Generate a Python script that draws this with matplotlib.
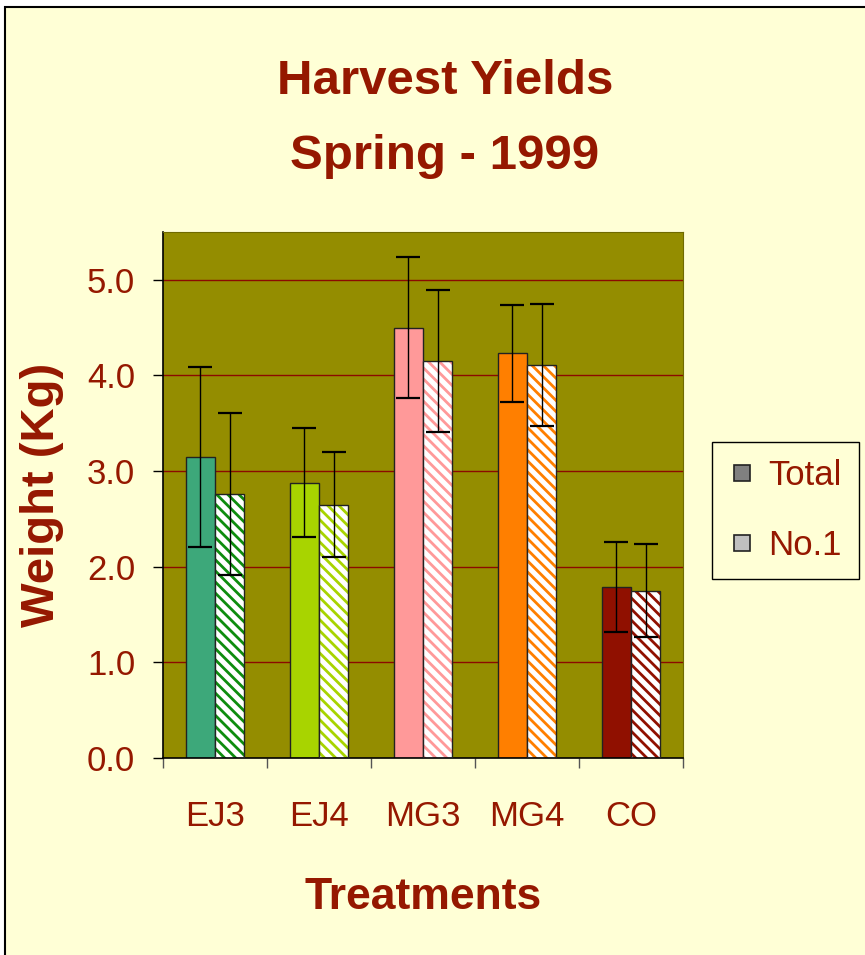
import matplotlib
matplotlib.use("Agg")
import matplotlib.pyplot as plt
import numpy as np
from matplotlib.patches import Rectangle
from matplotlib.lines import Line2D

# ---- data ----
categories = ["EJ3", "EJ4", "MG3", "MG4", "CO"]
total = [3.15, 2.88, 4.50, 4.23, 1.79]
total_err = [0.94, 0.57, 0.74, 0.51, 0.47]
no1 = [2.76, 2.65, 4.15, 4.11, 1.75]
no1_err = [0.85, 0.55, 0.74, 0.64, 0.49]
yticks = [0.0, 1.0, 2.0, 3.0, 4.0, 5.0]

total_colors = ["#3DA87A", "#A8D400", "#FF9999", "#FF7F00", "#901000"]
hatch_colors = ["#0E8C0E", "#A8D400", "#FF9999", "#FF7F00", "#901000"]

TXT = "#951800"
BG = "#FFFFD6"
PLOT_BG = "#948D00"
FONT = ["Liberation Sans", "DejaVu Sans"]

plt.rcParams["hatch.linewidth"] = 2.0

W, H = 865, 955
fig = plt.figure(figsize=(W / 100, H / 100), dpi=100, facecolor="white")
# yellow framed background
fig.add_artist(Rectangle((5 / W, -0.02), 1.1, 1 - 7 / H + 0.02, transform=fig.transFigure,
                         facecolor=BG, edgecolor="black", lw=1.5, zorder=-5))

ax = fig.add_axes([163 / W, 1 - 758 / H, (683 - 163) / W, (758 - 232) / H])
ax.set_facecolor(PLOT_BG)

x = np.arange(len(categories))
bw = 0.28
for yv in yticks[1:]:
    ax.axhline(yv, color="#8B0A00", lw=1.0, zorder=1)

ax.bar(x - bw / 2, total, bw, color=total_colors, edgecolor="#222222", lw=1.0, zorder=2)
ax.bar(x + bw / 2, no1, bw, color="white", edgecolor=hatch_colors, hatch="\\\\\\", lw=0, zorder=2)
ax.bar(x + bw / 2, no1, bw, fill=False, edgecolor="#222222", lw=1.0, zorder=3)

ax.errorbar(x - bw / 2, total, yerr=total_err, fmt="none", ecolor="black", elinewidth=1.0,
            capsize=8.3, capthick=1.6, zorder=4)
ax.errorbar(x + bw / 2, no1, yerr=no1_err, fmt="none", ecolor="black", elinewidth=1.0,
            capsize=8.3, capthick=1.6, zorder=4)

ax.set_xlim(-0.5, len(categories) - 0.5)
ax.set_ylim(0, 5.5)

ax.set_yticks(yticks)
ax.set_yticklabels([f"{v:.1f}" for v in yticks], family=FONT, fontsize=25, color=TXT)
ax.tick_params(axis="y", length=7, width=1, color="black", pad=13)

ax.set_xticks(np.arange(len(categories) + 1) - 0.5)
ax.set_xticklabels([])
ax.tick_params(axis="x", which="major", length=7, width=1, color="#555555")
ax.set_xticks(x, minor=True)
ax.set_xticklabels(categories, minor=True, family=FONT, fontsize=25, color=TXT)
ax.tick_params(axis="x", which="minor", length=0, pad=30)

for s in ["left", "bottom"]:
    ax.spines[s].set_color("black")
    ax.spines[s].set_linewidth(1.2)
for s in ["top", "right"]:
    ax.spines[s].set_color("#6f6a00")
    ax.spines[s].set_linewidth(0.8)

# axis labels
fig.text(42 / W, 1 - 495 / H, "Weight (Kg)", rotation=90, ha="center", va="center",
         family=FONT, fontweight="bold", fontsize=34, color=TXT)
fig.text(423 / W, 1 - 897 / H, "Treatments", ha="center", va="center",
         family=FONT, fontweight="bold", fontsize=32, color=TXT)

# title
fig.text(445 / W, 1 - 94 / H, "Harvest Yields", ha="center", va="baseline",
         family=FONT, fontweight="bold", fontsize=35.5, color=TXT)
fig.text(445 / W, 1 - 169 / H, "Spring - 1999", ha="center", va="baseline",
         family=FONT, fontweight="bold", fontsize=35.5, color=TXT)

# legend
handles = [Line2D([], [], ls="none", marker="s", markersize=12, markerfacecolor="#808080",
                  markeredgecolor="#222222", markeredgewidth=1.2),
           Line2D([], [], ls="none", marker="s", markersize=12, markerfacecolor="#C0C0C0",
                  markeredgecolor="#222222", markeredgewidth=1.2)]
leg = fig.legend(handles, ["Total", "No.1"], loc="center",
                 bbox_to_anchor=(785.5 / W, 1 - 510.5 / H),
                 prop={"family": FONT, "size": 25}, frameon=True, fancybox=False,
                 facecolor=BG, edgecolor="black", framealpha=1, labelspacing=1.05,
                 handletextpad=0.4, handlelength=0.7, borderpad=0.5, borderaxespad=0,
                 labelcolor=TXT)
leg.get_frame().set_linewidth(1.0)

fig.savefig("out.png", dpi=100, facecolor="white")
